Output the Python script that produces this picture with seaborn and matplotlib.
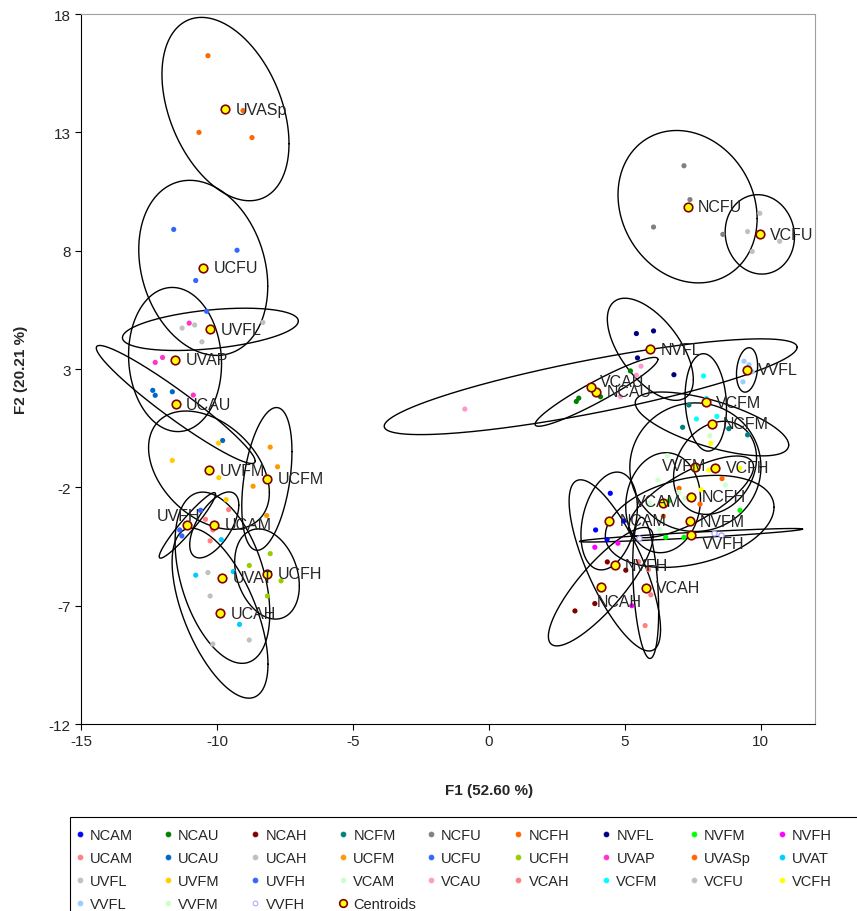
import numpy as np
import pandas as pd
import seaborn as sns
import matplotlib.pyplot as plt
from matplotlib.lines import Line2D
from matplotlib.patches import Rectangle

# group names, in legend order
groups = ["NCAM", "NCAU", "NCAH", "NCFM", "NCFU", "NCFH", "NVFL", "NVFM", "NVFH",
          "UCAM", "UCAU", "UCAH", "UCFM", "UCFU", "UCFH", "UVAP", "UVASp", "UVAT",
          "UVFL", "UVFM", "UVFH", "VCAM", "VCAU", "VCAH", "VCFM", "VCFU", "VCFH",
          "VVFL", "VVFM", "VVFH"]

# observation scores on F1 / F2, one list per group
f1 = {
    "NCAM": [4.47, 3.93, 4.35, 4.96],
    "NCAU": [5.21, 3.31, 3.22, 4.11],
    "NCAH": [4.36, 5.04, 3.90, 3.17],
    "NCFM": [7.36, 7.13, 8.83, 9.52],
    "NCFU": [7.18, 7.40, 6.06, 8.61],
    "NCFH": [8.58, 7.00, 7.77, 6.42],
    "NVFL": [5.43, 6.06, 5.47, 6.81],
    "NVFM": [9.24, 6.51, 7.18, 6.63],
    "NVFH": [3.90, 4.75, 5.26],
    "UCAM": [-9.57, -10.42, -10.15, -10.25],
    "UCAU": [-12.36, -12.27, -11.64, -9.79],
    "UCAH": [-10.33, -10.25, -10.15, -8.81],
    "UCFM": [-8.04, -7.77, -8.67, -8.17],
    "UCFU": [-11.59, -9.26, -10.78, -10.38],
    "UCFH": [-8.04, -8.81, -7.64, -8.14],
    "UVAP": [-12.00, -12.27, -11.02, -10.87],
    "UVASp": [-10.33, -10.66, -9.04, -8.71],
    "UVAT": [-10.78, -9.40, -9.17, -9.84],
    "UVFL": [-11.28, -10.82, -10.55, -8.31],
    "UVFM": [-9.94, -11.64, -9.93, -9.66],
    "UVFH": [-10.60, -11.37, -11.29],
    "VCAM": [6.22, 7.22, 5.92, 6.29],
    "VCAU": [5.60, 5.43, -0.88, 4.84],
    "VCAH": [5.51, 5.96, 5.75, 5.87],
    "VCFM": [7.90, 8.00, 7.64, 8.39],
    "VCFU": [9.97, 9.52, 9.69, 10.70],
    "VCFH": [8.16, 8.09, 7.81, 9.23],
    "VVFL": [9.39, 9.57, 9.69, 9.35],
    "VVFM": [8.13, 6.57, 8.70, 7.00],
    "VVFH": [8.28, 8.53, 5.51],
}
f2 = {
    "NCAM": [-2.25, -3.80, -4.21, -3.42],
    "NCAU": [2.92, 1.77, 1.63, 1.83],
    "NCAH": [-5.15, -5.50, -6.91, -7.22],
    "NCFM": [1.48, 0.54, 0.48, 0.22],
    "NCFU": [11.59, 10.16, 9.00, 8.69],
    "NCFH": [-1.63, -2.04, -2.71, -3.22],
    "NVFL": [4.50, 4.61, 3.47, 2.76],
    "NVFM": [-2.97, -4.11, -4.11, -2.56],
    "NVFH": [-4.53, -4.36, -7.00],
    "UCAM": [-2.94, -3.35, -3.80, -4.26],
    "UCAU": [2.10, 1.89, 2.04, -0.02],
    "UCAH": [-5.60, -6.59, -8.62, -8.45],
    "UCFM": [-0.30, -1.13, -1.95, -3.19],
    "UCFU": [8.90, 8.02, 6.74, 5.44],
    "UCFH": [-4.80, -5.30, -5.95, -6.59],
    "UVAP": [3.49, 3.28, 4.94, 1.90],
    "UVASp": [16.24, 13.00, 13.92, 12.78],
    "UVAT": [-5.71, -5.56, -7.79, -4.21],
    "UVFL": [4.73, 4.86, 4.15, 4.97],
    "UVFM": [-0.13, -0.86, -1.59, -2.52],
    "UVFH": [-2.97, -3.80, -4.05],
    "VCAM": [-1.69, -2.46, -2.66, -3.78],
    "VCAU": [3.12, 2.74, 1.31, 1.84],
    "VCAH": [-5.14, -6.54, -7.84, -5.47],
    "VCFM": [2.71, 1.76, 0.89, 1.00],
    "VCFU": [9.58, 8.81, 7.97, 8.40],
    "VCFH": [-0.14, -1.27, -2.10, -1.19],
    "VVFL": [3.33, 3.18, 2.88, 2.46],
    "VVFM": [0.18, -0.66, -1.90, -2.21],
    "VVFH": [-3.92, -4.00, -4.15],
}

colors = {
    "NCAM": "#0000FF", "NCAU": "#008000", "NCAH": "#800000", "NCFM": "#008080",
    "NCFU": "#808080", "NCFH": "#FF6600", "NVFL": "#000080", "NVFM": "#00FF00",
    "NVFH": "#FF00FF", "UCAM": "#FF8080", "UCAU": "#0066CC", "UCAH": "#C0C0C0",
    "UCFM": "#FF9900", "UCFU": "#3366FF", "UCFH": "#99CC00", "UVAP": "#FF33CC",
    "UVASp": "#FF6600", "UVAT": "#00CCFF", "UVFL": "#C0C0C0", "UVFM": "#FFCC00",
    "UVFH": "#3366FF", "VCAM": "#CCFFCC", "VCAU": "#FF99CC", "VCAH": "#FF8080",
    "VCFM": "#00FFFF", "VCFU": "#C0C0C0", "VCFH": "#FFFF00", "VVFL": "#99CCFF",
    "VVFM": "#CCFFCC", "VVFH": "#FFFFFF",
}

# label offsets (points) where the label does not sit right of the centroid
label_offset = {"UVFH": (-22, 7), "VVFM": (-24, 1), "VCAM": (-20, 1),
                "VVFH": (8, -6), "NCAH": (-3, -11), "VCAU": (6.5, 4)}

sns.set_style("white")
plt.rcParams["font.family"] = ["Liberation Sans", "DejaVu Sans"]
plt.rcParams["axes.unicode_minus"] = False

rows = []
for g in groups:
    for x, y in zip(f1[g], f2[g]):
        rows.append({"group": g, "F1": x, "F2": y})
df = pd.DataFrame(rows)
cent = df.groupby("group", sort=False)[["F1", "F2"]].mean()


def conf_ellipse(xs, ys, k=2.448, n=300):
    # 95% confidence ellipse from the sample covariance
    L = np.linalg.cholesky(np.cov(xs, ys))
    t = np.linspace(0, 2 * np.pi, n)
    e = k * L @ np.vstack([np.cos(t), np.sin(t)])
    return np.mean(xs) + e[0], np.mean(ys) + e[1]


fig = plt.figure(figsize=(8.57, 9.12), dpi=100)
ax = fig.add_axes([0.0945, 0.205, 0.8565, 0.7785])

for g in groups:
    ex, ey = conf_ellipse(f1[g], f2[g])
    ax.plot(ex, ey, color="black", lw=1.0, zorder=1)

sns.scatterplot(data=df[df.group != "VVFH"], x="F1", y="F2", hue="group",
                palette=colors, s=14, linewidth=0, legend=False, ax=ax, zorder=2)
sns.scatterplot(data=df[df.group == "VVFH"], x="F1", y="F2", color="white",
                edgecolor="#9999FF", s=14, linewidth=0.8, legend=False, ax=ax, zorder=2)
ax.scatter(cent.F1, cent.F2, s=38, color="#FFFF00", edgecolor="#800000",
           linewidth=1.2, zorder=3)

for g in groups:
    ax.annotate(g, (cent.loc[g, "F1"], cent.loc[g, "F2"]),
                xytext=label_offset.get(g, (7.5, 0)), textcoords="offset points",
                ha="left", va="center", fontsize=11.5, zorder=4)

ax.set_xlim(-15, 12)
ax.set_ylim(-12, 18)
ax.set_xticks([-15, -10, -5, 0, 5, 10])
ax.set_yticks([-12, -7, -2, 3, 8, 13, 18])
ax.tick_params(axis="both", direction="out", length=4, width=0.8, labelsize=11,
               left=True, bottom=True, color="black")
for side in ["left", "bottom"]:
    ax.spines[side].set_color("black")
    ax.spines[side].set_linewidth(0.8)
for side in ["top", "right"]:
    ax.spines[side].set_color("#A0A0A0")
    ax.spines[side].set_linewidth(0.8)
ax.set_xlabel("F1 (52.60 %)", fontsize=11, fontweight="bold")
ax.set_ylabel("F2 (20.21 %)", fontsize=11, fontweight="bold")
ax.xaxis.set_label_coords(0.556, -0.083)
ax.yaxis.set_label_coords(-0.072, 0.5)

# legend: 9 fixed-width columns filled row by row, inside one box
names = groups + ["Centroids"]
handles = []
for g in groups:
    edge = "#9999FF" if g == "VVFH" else colors[g]
    handles.append(Line2D([], [], ls="", marker="o", ms=3.5, mfc=colors[g],
                          mec=edge, mew=0.6))
handles.append(Line2D([], [], ls="", marker="o", ms=5.5, mfc="#FFFF00",
                      mec="#800000", mew=1.2))
ncol = 9
for j in range(ncol):
    idx = list(range(j, len(names), ncol))
    fig.legend([handles[i] for i in idx], [names[i] for i in idx],
               loc="upper left", bbox_to_anchor=((75.6 + 87.7 * j) / 857, 1 - 829 / 912),
               fontsize=10.5, frameon=False, handlelength=0.6, handletextpad=0.4,
               labelspacing=0.62, borderaxespad=0.0, borderpad=0.0)
fig.add_artist(Rectangle((70 / 857, -0.02), 1.0, 1 - 818 / 912 + 0.02,
                         transform=fig.transFigure, fill=False, ec="black", lw=0.8))

fig.savefig("out.png", dpi=100)
